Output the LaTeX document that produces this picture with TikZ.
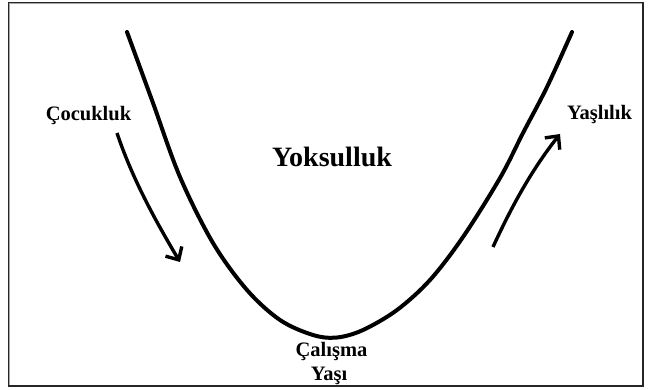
\documentclass[tikz,border=0pt]{standalone}
\usepackage{fontspec}
\setmainfont{Liberation Serif}
\usetikzlibrary{arrows.meta}
\tikzset{
  lbl/.style={font=\fontsize{20.5}{24}\selectfont\bfseries, anchor=base, inner sep=0pt},
  bigl/.style={font=\fontsize{28}{32}\selectfont\bfseries, anchor=base, inner sep=0pt},
  curve/.style={line width=4pt, line cap=round},
  flow/.style={line width=3.4pt, -{Straight Barb[length=10pt,width=19pt,line width=3.4pt]}},
}
\begin{document}
\begin{tikzpicture}[x=1pt,y=-1pt]
\useasboundingbox (0,0) rectangle (648,390);
\fill[white] (0,0) rectangle (648,390);
\draw[black!35, line width=1.2pt] (9.2,3.2) rectangle (643.8,386.8);
\draw[black!85, line width=1.3pt] (8.3,2.3) rectangle (643,386);
\draw[curve] plot[smooth, tension=0.55] coordinates {(127,32) (153,103) (180,177) (213,243) (247,290) (280,320) (313,335) (337,337.5) (363,330) (397,310) (430,280) (463,237) (500,178) (523,133) (547,87) (572,32)};
\node[lbl] (child) at (88.5,121) {Çocukluk};
\node[lbl] (old) at (599.5,120) {Yaşlılık};
\node[bigl] (pov) at (332,167) {Yoksulluk};
\node[lbl] (work1) at (331.5,356) {Çalışma};
\node[lbl] (work2) at (329,380) {Yaşı};
\coordinate (a1) at (117,133);
\coordinate (a2) at (180,262);
\coordinate (b1) at (493,247);
\coordinate (b2) at (560,134);
\draw[flow] (a1) .. controls (132,178) and (155,220) .. (a2);
\draw[flow] (b1) .. controls (510,210) and (530,172) .. (b2);
\end{tikzpicture}
\end{document}
